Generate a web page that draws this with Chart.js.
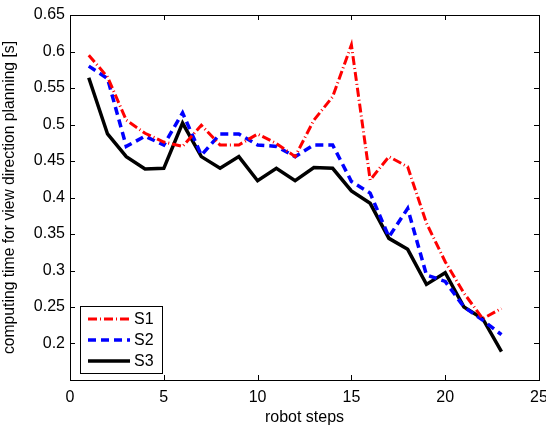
<!DOCTYPE html>
<html>
<head>
<meta charset="utf-8">
<script src="https://cdn.jsdelivr.net/npm/chart.js@4.4.1/dist/chart.umd.min.js"></script>
<style>
  body { margin: 0; background: #fff; }
  canvas { display: block; }
</style>
</head>
<body>
<canvas id="timeChart" width="546" height="425"></canvas>
<script>
const steps = [1, 2, 3, 4, 5, 6, 7, 8, 9, 10, 11, 12, 13, 14, 15, 16, 17, 18, 19, 20, 21, 22, 23];
const s1 = [0.595, 0.565, 0.506, 0.488, 0.476, 0.470, 0.499, 0.472, 0.472, 0.487, 0.474, 0.456, 0.506, 0.538, 0.609, 0.424, 0.456, 0.442, 0.365, 0.312, 0.269, 0.234, 0.248];
const s2 = [0.580, 0.563, 0.470, 0.484, 0.472, 0.516, 0.458, 0.487, 0.487, 0.472, 0.470, 0.456, 0.472, 0.472, 0.422, 0.406, 0.346, 0.385, 0.294, 0.285, 0.250, 0.232, 0.212];
const s3 = [0.564, 0.487, 0.456, 0.439, 0.440, 0.502, 0.456, 0.440, 0.456, 0.423, 0.440, 0.423, 0.441, 0.440, 0.409, 0.392, 0.344, 0.329, 0.281, 0.297, 0.250, 0.234, 0.189];
const xTicks = [0, 5, 10, 15, 20, 25];
const yTicks = [0.2, 0.25, 0.3, 0.35, 0.4, 0.45, 0.5, 0.55, 0.6, 0.65];

const FONT = '"Liberation Sans", Arial, sans-serif';

function toPoints(vals) {
    return vals.map((v, i) => ({ x: steps[i], y: v }));
}

// box around the plot with inward ticks, like matlab
const axesBox = {
    id: 'axesBox',
    afterDraw(chart) {
        const { ctx, chartArea: a, scales } = chart;
        ctx.save();
        ctx.strokeStyle = '#000';
        ctx.lineWidth = 1;
        ctx.strokeRect(Math.round(a.left) + 0.5, Math.round(a.top) + 0.5, Math.round(a.right - a.left), Math.round(a.bottom - a.top));
        const len = 5;
        ctx.beginPath();
        xTicks.forEach(t => {
            const px = Math.round(scales.x.getPixelForValue(t)) + 0.5;
            ctx.moveTo(px, a.bottom); ctx.lineTo(px, a.bottom - len);
            ctx.moveTo(px, a.top); ctx.lineTo(px, a.top + len);
        });
        yTicks.forEach(t => {
            const py = Math.round(scales.y.getPixelForValue(t)) + 0.5;
            ctx.moveTo(a.left, py); ctx.lineTo(a.left + len, py);
            ctx.moveTo(a.right, py); ctx.lineTo(a.right - len, py);
        });
        ctx.stroke();

        // legend in the lower left corner
        const bx = a.left + 10, by = a.bottom - 74, bw = 82, bh = 67;
        ctx.fillStyle = '#fff';
        ctx.fillRect(bx, by, bw, bh);
        ctx.strokeRect(bx + 0.5, by + 0.5, bw, bh);
        ctx.font = '16px ' + FONT;
        ctx.textBaseline = 'middle';
        chart.data.datasets.forEach((ds, i) => {
            const y = by + 13 + i * 21;
            ctx.beginPath();
            ctx.strokeStyle = ds.borderColor;
            ctx.lineWidth = ds.borderWidth;
            ctx.setLineDash(ds.borderDash || []);
            ctx.moveTo(bx + 8, y);
            ctx.lineTo(bx + 50, y);
            ctx.stroke();
            ctx.setLineDash([]);
            ctx.fillStyle = '#000';
            ctx.fillText(ds.label, bx + 54, y + 1);
        });
        ctx.restore();
    }
};

new Chart(document.getElementById('timeChart'), {
    type: 'line',
    data: {
        datasets: [
            { label: 'S1', data: toPoints(s1), borderColor: '#ff0000', borderWidth: 3, borderDash: [9, 3, 1, 3] },
            { label: 'S2', data: toPoints(s2), borderColor: '#0000ff', borderWidth: 3.5, borderDash: [8, 5] },
            { label: 'S3', data: toPoints(s3), borderColor: '#000000', borderWidth: 3.5 }
        ]
    },
    options: {
        responsive: false,
        animation: false,
        layout: { padding: { top: 15, right: 7, left: 0, bottom: 0 } },
        elements: { point: { radius: 0 }, line: { tension: 0, borderJoinStyle: 'miter' } },
        plugins: { legend: { display: false }, tooltip: { enabled: false } },
        scales: {
            x: {
                type: 'linear', min: 0, max: 25,
                afterBuildTicks: s => { s.ticks = xTicks.map(v => ({ value: v })); },
                afterFit: s => { s.height = 45; s.paddingLeft = 0; s.paddingRight = 0; },
                grid: { display: false, drawTicks: false },
                border: { display: false },
                ticks: { color: '#000', font: { family: FONT, size: 16 }, padding: 8, maxRotation: 0 },
                title: { display: true, text: 'robot steps', color: '#000', font: { family: FONT, size: 16 }, padding: { top: 0, bottom: -2 } }
            },
            y: {
                min: 0.15, max: 0.65,
                afterBuildTicks: s => { s.ticks = yTicks.map(v => ({ value: v })); },
                afterFit: s => { s.width = 70; s.paddingTop = 0; s.paddingBottom = 0; },
                grid: { display: false, drawTicks: false },
                border: { display: false },
                ticks: { color: '#000', font: { family: FONT, size: 16 }, padding: 5, callback: v => String(+v.toFixed(2)) },
                title: { display: true, text: 'computing time for view direction planning [s]', color: '#000', font: { family: FONT, size: 15.7 }, padding: { top: 0, bottom: 1 } }
            }
        }
    },
    plugins: [axesBox]
});
</script>
</body>
</html>
